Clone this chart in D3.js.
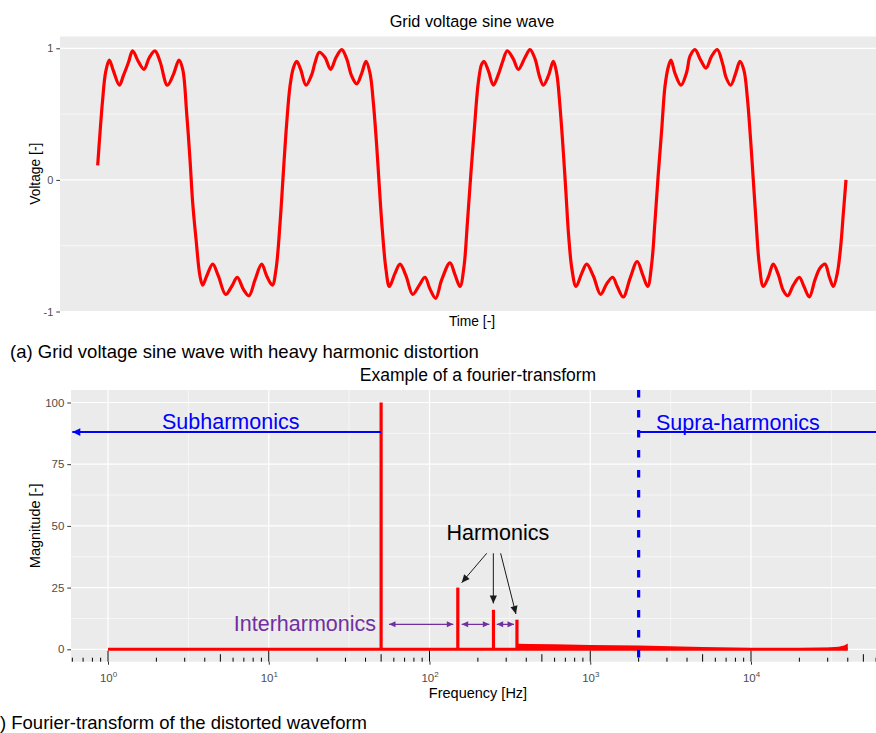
<!DOCTYPE html>
<html>
<head>
<meta charset="utf-8">
<script src="https://cdn.jsdelivr.net/npm/d3@7"></script>
<style>
    body { margin: 0; background: #fff; }
    text { font-family: "Liberation Sans", Arial, sans-serif; }
</style>
</head>
<body>
<div id="main"></div>
<script>
const ctx = {
    w: 876,
    h: 733,
};

// (a) distorted grid voltage, time in ms, voltage normalised
const voltTime = [0.18, 0.43, 0.71, 1.03, 1.42, 1.85, 2.49, 2.91, 3.45, 3.91, 4.51, 5.12, 5.69, 6.29, 6.83, 7.61, 8.25, 8.85, 9.25, 9.67,
    10.03, 10.31, 10.67, 11.09, 11.38, 11.81, 12.45, 13.05, 13.83, 14.47, 15.07, 15.71, 16.32, 16.96, 17.67, 18.21, 18.81, 19.20, 19.63,
    20.05, 20.34, 20.69, 21.05, 21.41, 21.83, 22.40, 23.01, 23.36, 23.82, 24.43, 25.03, 25.60, 26.21, 26.74, 27.27, 27.81, 28.34, 28.80, 29.23, 29.58, 29.94,
    30.22, 30.54, 30.93, 31.29, 31.89, 32.43, 33.07, 33.78, 34.49, 35.09, 35.63, 36.23, 36.87, 37.76, 38.29, 38.83, 39.25, 39.61, 39.97,
    40.35, 40.78, 41.14, 41.39, 41.85, 42.38, 42.91, 43.38, 43.87, 44.51, 45.05, 45.76, 46.29, 46.83, 47.29, 47.71, 48.25, 48.78, 49.14, 49.49, 49.85,
    50.13, 50.42, 50.77, 51.20, 51.81, 52.34, 53.05, 53.83, 54.47, 55.11, 55.60, 56.24, 56.96, 57.73, 58.31, 58.85, 59.27, 59.63, 59.98,
    60.34, 60.69, 61.05, 61.33, 61.76, 62.40, 63.01, 63.36, 63.89, 64.50, 65.07, 65.67, 66.27, 66.85, 67.20, 67.70, 68.23, 68.69, 69.12, 69.47, 69.83,
    70.11, 70.40, 70.75, 71.18, 71.71, 72.24, 72.78, 73.31, 73.78, 74.38, 75.02, 75.52, 76.09, 76.69, 77.23, 77.76, 78.23, 78.65, 79.07, 79.43, 79.71, 80.00];
const voltValue = [0.11, 0.36, 0.61, 0.82, 0.91, 0.83, 0.72, 0.79, 0.89, 0.98, 0.90, 0.84, 0.93, 0.98, 0.90, 0.72, 0.80, 0.91, 0.84, 0.51,
    0.15, -0.17, -0.45, -0.73, -0.80, -0.73, -0.64, -0.73, -0.87, -0.81, -0.74, -0.83, -0.88, -0.76, -0.64, -0.73, -0.80, -0.68, -0.33,
    0.13, 0.43, 0.71, 0.85, 0.90, 0.84, 0.72, 0.80, 0.89, 0.97, 0.93, 0.84, 0.93, 0.99, 0.92, 0.79, 0.73, 0.81, 0.90, 0.81, 0.59, 0.26,
    -0.05, -0.38, -0.68, -0.81, -0.71, -0.64, -0.73, -0.87, -0.80, -0.74, -0.83, -0.90, -0.76, -0.63, -0.72, -0.81, -0.66, -0.33, 0.03,
    0.38, 0.74, 0.88, 0.90, 0.83, 0.72, 0.80, 0.90, 0.98, 0.92, 0.84, 0.93, 0.99, 0.92, 0.79, 0.72, 0.79, 0.90, 0.81, 0.56, 0.21,
    -0.10, -0.43, -0.68, -0.81, -0.71, -0.64, -0.73, -0.87, -0.79, -0.74, -0.81, -0.89, -0.75, -0.62, -0.72, -0.81, -0.64, -0.31, 0.05,
    0.38, 0.71, 0.86, 0.91, 0.81, 0.72, 0.82, 0.94, 0.99, 0.91, 0.85, 0.94, 0.99, 0.88, 0.78, 0.72, 0.81, 0.90, 0.83, 0.63, 0.30,
    0.00, -0.31, -0.64, -0.81, -0.74, -0.64, -0.72, -0.84, -0.88, -0.80, -0.74, -0.81, -0.89, -0.76, -0.67, -0.64, -0.74, -0.81, -0.71, -0.51, -0.26, 0.00];
const voltTicks = [-1, 0, 1];

// (b) spectrum: flat line, harmonic peaks and the noise floor above 350 Hz
const specRange = [1, 40000];
const harmFreq = [50, 150, 250, 350];
const harmMag = [100, 25, 16, 12];
const noiseFreq = [352, 420, 600, 1000, 2000, 5000, 10000, 20000, 30000, 35000, 38000, 40000];
const noiseMag = [2.2, 2.1, 2.0, 1.7, 1.5, 0.9, 0.5, 0.5, 0.7, 1.0, 1.5, 2.3];
const magTicks = [0, 25, 50, 75, 100];
const freqTicks = [1, 10, 100, 1000, 10000];

function arrowHead(g, x1, y1, x2, y2, len, half, color) {
    const a = Math.atan2(y2 - y1, x2 - x1);
    const c = Math.cos(a), s = Math.sin(a);
    const p = [[x2, y2],
        [x2 - len * c + half * s, y2 - len * s - half * c],
        [x2 - len * c - half * s, y2 - len * s + half * c]];
    g.append("path").attr("d", "M" + p.join("L") + "Z").attr("fill", color);
}

function arrow(g, x1, y1, x2, y2, opt) {
    g.append("line")
        .attr("x1", x1).attr("y1", y1).attr("x2", x2).attr("y2", y2)
        .attr("stroke", opt.color).attr("stroke-width", opt.width);
    arrowHead(g, x1, y1, x2, y2, opt.len, opt.half, opt.color);
    if (opt.both) arrowHead(g, x2, y2, x1, y1, opt.len, opt.half, opt.color);
}

function hGrid(g, scale, values, x0, x1, w) {
    g.selectAll(null).data(values).enter().append("line")
        .attr("x1", x0).attr("x2", x1)
        .attr("y1", d => scale(d)).attr("y2", d => scale(d))
        .attr("stroke", "#fff").attr("stroke-width", w);
}

function vGrid(g, scale, values, y0, y1, w) {
    g.selectAll(null).data(values).enter().append("line")
        .attr("y1", y0).attr("y2", y1)
        .attr("x1", d => scale(d)).attr("x2", d => scale(d))
        .attr("stroke", "#fff").attr("stroke-width", w);
}

function yAxis(g, scale, ticks, x, fs) {
    let ax = g.append("g").attr("transform", "translate(" + x + ",0)")
        .call(d3.axisLeft(scale).tickValues(ticks).tickSize(3.7).tickPadding(3).tickFormat(d => String(d).replace("\u2212", "-")));
    ax.select(".domain").remove();
    ax.selectAll("line").attr("stroke", "#333");
    ax.selectAll("text").attr("fill", "#4D4D4D").attr("font-size", fs)
        .attr("font-family", "Liberation Sans, Arial, sans-serif");
}

function createVoltage(svg) {
    const p = { left: 60, right: 886, top: 36.5, bottom: 311 };
    const x = d3.scaleLinear().domain([0, 80]).range([96, 846]);
    const y = d3.scaleLinear().domain([-1, 1]).range([311.5, 48.3]);
    let g = svg.append("g");

    g.append("rect").attr("x", p.left).attr("y", p.top)
        .attr("width", p.right - p.left).attr("height", p.bottom - p.top).attr("fill", "#EBEBEB");
    hGrid(g, y, [-0.5, 0.5], p.left, p.right, 0.6);
    hGrid(g, y, [0, 1], p.left, p.right, 1.2);

    const pts = voltTime.map((t, i) => [t, voltValue[i]]);
    g.append("path").datum(pts)
        .attr("fill", "none").attr("stroke", "#FF0000").attr("stroke-width", 3.2)
        .attr("stroke-linejoin", "round")
        .attr("d", d3.line().curve(d3.curveCatmullRom.alpha(0.5)).x(d => x(d[0])).y(d => y(d[1])));

    yAxis(g, y, voltTicks, p.left, 11);

    g.append("text").attr("x", 472).attr("y", 26.5).attr("text-anchor", "middle")
        .attr("font-size", 16.3).attr("fill", "#000").text("Grid voltage sine wave");
    g.append("text").attr("x", 472).attr("y", 326).attr("text-anchor", "middle")
        .attr("font-size", 13.8).attr("fill", "#000").text("Time [-]");
    g.append("text").attr("transform", "translate(40," + ((p.top + p.bottom) / 2) + ") rotate(-90)")
        .attr("text-anchor", "middle").attr("font-size", 13.8).attr("fill", "#000").text("Voltage [-]");
}

function createSpectrum(svg) {
    const p = { left: 71, right: 886, top: 390, bottom: 661.7 };
    const x = d3.scaleLog().domain([1, 10000]).range([108, 751]);
    const y = d3.scaleLinear().domain([0, 100]).range([649.3, 402.5]);
    let g = svg.append("g");

    g.append("rect").attr("x", p.left).attr("y", p.top)
        .attr("width", p.right - p.left).attr("height", p.bottom - p.top).attr("fill", "#EBEBEB");
    hGrid(g, y, [12.5, 37.5, 62.5, 87.5], p.left, p.right, 0.6);
    vGrid(g, x, [Math.pow(10, 0.5), Math.pow(10, 1.5), Math.pow(10, 2.5), Math.pow(10, 3.5), Math.pow(10, 4.5)], p.top, p.bottom, 0.6);
    hGrid(g, y, magTicks, p.left, p.right, 1.2);
    vGrid(g, x, freqTicks, p.top, p.bottom, 1.2);

    // spectrum
    g.append("path").datum(noiseFreq.map((f, i) => [f, noiseMag[i]]))
        .attr("fill", "#FF0000")
        .attr("d", d3.area().x(d => x(d[0])).y0(y(0)).y1(d => y(d[1])));
    g.append("line").attr("x1", x(specRange[0])).attr("x2", x(specRange[1]))
        .attr("y1", y(0)).attr("y2", y(0)).attr("stroke", "#FF0000").attr("stroke-width", 3);
    g.selectAll(".peak").data(harmFreq).enter().append("line")
        .attr("class", "peak")
        .attr("x1", d => x(d)).attr("x2", d => x(d))
        .attr("y1", y(0)).attr("y2", (d, i) => y(harmMag[i]))
        .attr("stroke", "#FF0000").attr("stroke-width", 3.2);

    // log ticks inside the panel bottom
    let lt = [];
    for (let e = -1; e <= 4; e++) {
        for (let k = 1; k <= 9; k++) {
            const f = k * Math.pow(10, e);
            if (x(f) > p.left && x(f) < p.right) lt.push({ f: f, len: k === 1 ? 11 : (k === 5 ? 7.5 : 4) });
        }
    }
    g.selectAll(".lt").data(lt).enter().append("line")
        .attr("x1", d => x(d.f)).attr("x2", d => x(d.f))
        .attr("y1", p.bottom).attr("y2", d => p.bottom - d.len)
        .attr("stroke", "#000").attr("stroke-width", 1);

    // annotations
    const blue = "#0000FF", purple = "#7030A0";
    g.append("line").attr("x1", x(2000)).attr("x2", x(2000)).attr("y1", p.top).attr("y2", p.bottom)
        .attr("stroke", blue).attr("stroke-width", 3.2).attr("stroke-dasharray", "7.5,12.5");
    arrow(g, x(50), y(88), x(0.6), y(88), { color: blue, width: 2, len: 8, half: 3.8 });
    arrow(g, x(2000), y(88), x(70000), y(88), { color: blue, width: 2, len: 8, half: 3.8 });
    g.append("text").attr("x", x(5.8)).attr("y", y(89.1)).attr("text-anchor", "middle")
        .attr("font-family", "Lato, sans-serif").attr("font-size", 21.5).attr("fill", blue).text("Subharmonics");
    g.append("text").attr("x", x(2565)).attr("y", y(88.9)).attr("text-anchor", "start")
        .attr("font-family", "Lato, sans-serif").attr("font-size", 21.5).attr("fill", blue).text("Supra-harmonics");

    g.append("text").attr("x", x(266)).attr("y", y(44.1)).attr("text-anchor", "middle")
        .attr("font-family", "Lato, sans-serif").attr("font-size", 21.5).attr("fill", "#000").text("Harmonics");
    const blackOpt = { color: "#1a1a1a", width: 1, len: 8, half: 3.6 };
    arrow(g, x(227), y(38.9), x(158.6), y(27), blackOpt);
    arrow(g, x(249.5), y(38.9), x(249.5), y(18.6), blackOpt);
    arrow(g, x(277), y(38.9), x(345), y(14.3), blackOpt);

    g.append("text").attr("x", x(46.5)).attr("y", y(7.5)).attr("text-anchor", "end")
        .attr("font-family", "Lato, sans-serif").attr("font-size", 21.5).attr("fill", purple).text("Interharmonics");
    const purpleOpt = { color: purple, width: 1.2, len: 6.5, half: 3, both: true };
    arrow(g, x(56), y(10.1), x(140.6), y(10.1), purpleOpt);
    arrow(g, x(158.6), y(10.1), x(235.6), y(10.1), purpleOpt);
    arrow(g, x(261.8), y(10.1), x(335.6), y(10.1), purpleOpt);

    // axes
    yAxis(g, y, magTicks, p.left, 11.5);
    let xa = g.append("g").attr("transform", "translate(0," + p.bottom + ")")
        .call(d3.axisBottom(x).tickValues(freqTicks).tickSize(3).tickPadding(3).tickFormat(""));
    xa.select(".domain").remove();
    xa.selectAll("line").attr("stroke", "#333");
    xa.selectAll(".tick").append("text")
        .attr("y", 20.5).attr("text-anchor", "middle").attr("fill", "#4D4D4D")
        .attr("font-size", 11.5).attr("font-family", "Liberation Sans, Arial, sans-serif")
        .each(function(d) {
            let t = d3.select(this);
            t.append("tspan").text("10");
            t.append("tspan").attr("dy", -5).attr("font-size", 8).text(Math.round(Math.log10(d)));
        });

    g.append("text").attr("x", 478).attr("y", 380.5).attr("text-anchor", "middle")
        .attr("font-size", 17.5).attr("fill", "#000").text("Example of a fourier-transform");
    g.append("text").attr("x", 478).attr("y", 698).attr("text-anchor", "middle")
        .attr("font-size", 14.5).attr("fill", "#000").text("Frequency [Hz]");
    g.append("text").attr("transform", "translate(40," + ((p.top + p.bottom) / 2) + ") rotate(-90)")
        .attr("text-anchor", "middle").attr("font-size", 14.5).attr("fill", "#000").text("Magnitude [-]");
}

function createViz() {
    let svg = d3.select("#main").append("svg")
        .attr("width", ctx.w).attr("height", ctx.h);
    svg.append("rect").attr("width", ctx.w).attr("height", ctx.h).attr("fill", "#fff");

    createVoltage(svg);
    svg.append("text").attr("x", 10).attr("y", 358).attr("font-size", 18.5).attr("fill", "#000")
        .text("(a) Grid voltage sine wave with heavy harmonic distortion");
    createSpectrum(svg);
    // the source figure is cropped on the left, so "(b" falls outside the frame
    svg.append("text").attr("x", -16.5).attr("y", 729).attr("font-size", 18.5).attr("fill", "#000")
        .text("(b) Fourier-transform of the distorted waveform");
}

createViz();
</script>
</body>
</html>
